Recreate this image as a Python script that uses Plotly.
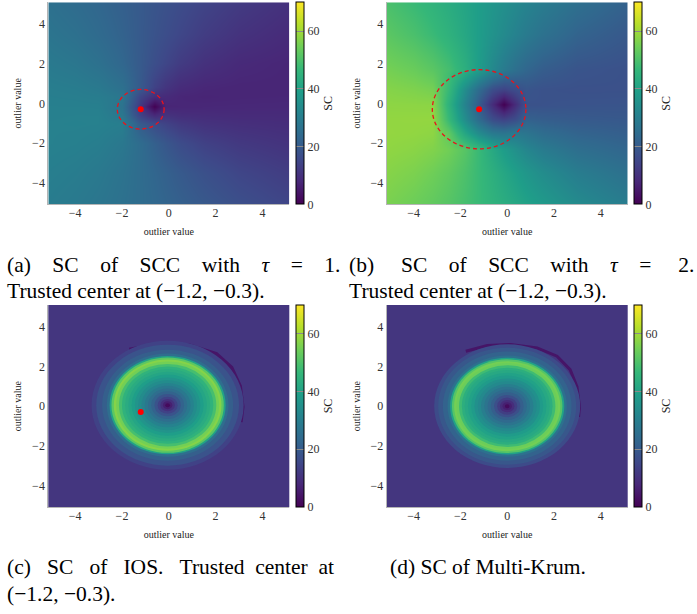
import plotly.graph_objects as go
from plotly.colors import sample_colorscale

W, H = 697, 614
SERIF = "Liberation Serif"
SC_MAX = 70

# ---------------- data ----------------
trusted_center = (-1.2, -0.3)
tau_a = 1.0
tau_b = 2.0

# (a) SC of SCC, tau = 1 (values on a coarse grid)
xa = [-5.1, -4, -3, -2, -1.2, -0.6, -0.15, 0.5, 1.5, 3, 5.1]
ya = [-5.1, -3.5, -2, -1, -0.6, -0.15, 0.35, 0.8, 2, 3.5, 5.1]
za = [
    [29.3, 28.5, 27.4, 26.0, 24.6, 23.5, 22.6, 21.4, 19.5, 17.2, 14.8],
    [30.0, 29.4, 28.4, 26.6, 24.6, 22.9, 21.6, 19.8, 17.4, 14.8, 12.7],
    [30.7, 30.4, 29.8, 28.0, 24.6, 21.4, 19.1, 16.4, 13.8, 11.8, 10.4],
    [30.7, 30.8, 30.7, 29.9, 19.8, 16.2, 14.1, 11.9, 10.3, 9.5, 9.0],
    [30.6, 30.7, 30.7, 27.9, 14.3, 8.6, 10.6, 9.5, 9.0, 8.6, 8.5],
    [30.4, 30.4, 30.3, 26.6, 11.4, 0.3, 7.3, 7.5, 7.7, 7.8, 7.9],
    [30.1, 29.9, 29.5, 27.7, 14.8, 9.5, 8.6, 7.5, 7.2, 7.4, 7.5],
    [29.8, 29.4, 28.5, 25.8, 19.8, 14.0, 11.0, 8.7, 7.6, 7.3, 7.3],
    [28.6, 27.7, 26.1, 23.2, 19.8, 16.9, 14.9, 12.4, 10.0, 8.2, 7.4],
    [27.1, 25.9, 24.2, 22.0, 19.8, 18.0, 16.7, 15.0, 12.6, 10.3, 8.5],
    [25.8, 24.5, 23.1, 21.3, 19.8, 18.5, 17.6, 16.3, 14.4, 12.2, 10.0],
]

# (b) SC of SCC, tau = 2
xb = [-5.1, -4, -3.2, -2.5, -1.8, -1.2, -0.6, -0.15, 0.3, 0.8, 1.5, 3, 5.1]
yb = [-5.1, -3.5, -2.3, -1.5, -0.8, -0.05, 0.7, 1.7, 3.5, 5.1]
zb = [
    [55.7, 54.2, 52.7, 51.1, 49.1, 47.2, 45.1, 43.5, 41.9, 40.2, 37.9, 33.7, 29.6],
    [57.1, 56.0, 54.5, 52.6, 50.0, 47.2, 44.1, 41.6, 39.3, 37.0, 34.1, 29.6, 26.0],
    [58.1, 57.5, 56.5, 54.7, 51.4, 47.2, 42.1, 38.5, 35.3, 32.4, 29.3, 25.5, 23.0],
    [58.5, 58.3, 57.9, 52.5, 41.7, 34.0, 28.8, 27.6, 28.8, 27.4, 25.0, 22.5, 21.1],
    [58.4, 58.5, 58.5, 46.9, 34.4, 24.5, 16.6, 14.3, 16.6, 21.9, 21.0, 20.0, 19.5],
    [57.9, 57.8, 57.7, 44.7, 31.4, 20.0, 8.6, 0.0, 8.6, 17.8, 17.9, 18.2, 18.3],
    [57.0, 56.3, 55.3, 46.9, 34.4, 24.5, 16.6, 14.3, 16.6, 18.6, 17.8, 17.5, 17.6],
    [55.2, 53.8, 51.8, 48.9, 44.2, 38.8, 32.9, 29.0, 25.8, 23.2, 20.7, 18.4, 17.6],
    [51.9, 49.7, 47.4, 44.9, 41.8, 38.8, 35.7, 33.4, 31.2, 29.0, 26.3, 22.3, 19.5],
    [49.6, 47.3, 45.3, 43.2, 40.9, 38.8, 36.6, 34.9, 33.3, 31.6, 29.4, 25.6, 21.9],
]

# (c) IOS and (d) Multi-Krum: uniform background + concentric rings (radius, SC)
bg_grid = [-5.15, 5.15]
bg_sc_c = 11
bg_sc_d = 11
ring_c_center = (-0.05, 0.05)
ring_c_r = [3.25, 3.05, 2.8, 2.6, 2.48, 2.4, 2.3, 2.2, 2.08, 1.95, 1.82, 1.68, 1.54, 1.4,
            1.26, 1.12, 0.98, 0.84, 0.7, 0.56, 0.43, 0.31, 0.2, 0.1]
ring_c_sc = [14, 18, 21, 25, 40, 52, 57, 55, 49, 45, 43, 41, 39, 36,
             34, 31, 28, 25, 22, 18, 14, 10, 6, 2]
ring_d_center = (0.0, 0.0)
ring_d_r = [3.12, 2.95, 2.75, 2.55, 2.44, 2.36, 2.27, 2.17, 2.06, 1.94, 1.82, 1.68, 1.54, 1.4,
            1.26, 1.12, 0.98, 0.84, 0.7, 0.56, 0.43, 0.31, 0.2, 0.1]
ring_d_sc = [16, 19, 22, 26, 40, 51, 55, 54, 48, 44, 42, 40, 38, 35,
             33, 30, 27, 24, 21, 17, 13, 9, 6, 2]
# thin low-SC arc on the upper-right of the rings
arc_c_x = [-1.68, -0.40, 0.88, 2.02, 2.66, 3.02, 3.13, 3.05]
arc_c_y = [2.82, 3.11, 3.03, 2.60, 1.92, 0.99, -0.03, -0.80]
arc_c_sc = 4
arc_d_x = [-1.77, -0.85, 0.14, 1.28, 2.13, 2.69, 2.98, 3.09, 3.05]
arc_d_y = [2.77, 3.06, 3.11, 2.94, 2.52, 1.84, 0.99, -0.03, -0.54]
arc_d_sc = 4

tick_vals = [-4, -2, 0, 2, 4]
cbar_ticks = [0, 20, 40, 60]

# ---------------- layout geometry (pixels) ----------------
panels = [
    # name, axis suffix, x px range, y px range, colorbar left px
    ("a", "", (48.3, 289.3), (2.3, 204.3), 296),
    ("b", "2", (386.7, 627.7), (2.3, 204.3), 634.3),
    ("c", "3", (48.3, 289.3), (305.0, 507.3), 296),
    ("d", "4", (386.7, 627.7), (305.0, 507.3), 634.3),
]


def fx(px):
    return px / W


def fy(py):
    return 1 - py / H


def vcol(v):
    return sample_colorscale("Viridis", [max(0.0, min(1.0, v / SC_MAX))])[0]


fig = go.Figure()

# heatmaps
fig.add_trace(go.Heatmap(x=xa, y=ya, z=za, zsmooth="best", coloraxis="coloraxis",
                         xaxis="x", yaxis="y", hoverinfo="skip"))
fig.add_trace(go.Heatmap(x=xb, y=yb, z=zb, zsmooth="best", coloraxis="coloraxis2",
                         xaxis="x2", yaxis="y2", hoverinfo="skip"))
fig.add_trace(go.Heatmap(x=bg_grid, y=bg_grid, z=[[bg_sc_c] * 2] * 2, coloraxis="coloraxis3",
                         xaxis="x3", yaxis="y3", hoverinfo="skip"))
fig.add_trace(go.Heatmap(x=bg_grid, y=bg_grid, z=[[bg_sc_d] * 2] * 2, coloraxis="coloraxis4",
                         xaxis="x4", yaxis="y4", hoverinfo="skip"))

layout = dict(
    width=W, height=H, margin=dict(l=0, r=0, t=0, b=0),
    paper_bgcolor="white", plot_bgcolor="white", showlegend=False,
    font=dict(family=SERIF, color="#222"),
)

shapes = []
for name, sfx, xpx, ypx, cbx in panels:
    ax = dict(
        domain=[fx(xpx[0]), fx(xpx[1])], range=[-5.15, 5.15],
        tickvals=tick_vals, ticks="", ticklen=0, showgrid=False, zeroline=False,
        showline=True, linecolor="#b5b5b5", linewidth=1, ticklabelstandoff=-3,
        tickfont=dict(family=SERIF, size=12, color="#333"),
        title=dict(text="outlier value", font=dict(family=SERIF, size=10, color="#222"), standoff=9),
        anchor="y" + sfx, automargin=False, fixedrange=True,
    )
    ay = dict(
        domain=[fy(ypx[1]), fy(ypx[0])], range=[-5.1, 5.1],
        tickvals=tick_vals, ticks="", ticklen=0, showgrid=False, zeroline=False,
        showline=True, linecolor="#b5b5b5", linewidth=1,
        tickfont=dict(family=SERIF, size=12, color="#333"),
        title=dict(text="outlier value", font=dict(family=SERIF, size=10, color="#222"), standoff=8),
        anchor="x" + sfx, automargin=False, fixedrange=True,
    )
    layout["xaxis" + sfx] = ax
    layout["yaxis" + sfx] = ay
    layout["coloraxis" + sfx] = dict(
        colorscale="Viridis", cmin=0, cmax=SC_MAX,
        colorbar=dict(
            x=fx(cbx), xanchor="left", y=fy(ypx[0]), yanchor="top",
            len=ypx[1] - ypx[0], lenmode="pixels", thickness=8, thicknessmode="pixels",
            xpad=0, ypad=0, outlinewidth=1, outlinecolor="black",
            tickvals=cbar_ticks, ticks="inside", ticklen=8, tickcolor="#8a8a8a",
            tickfont=dict(family=SERIF, size=12, color="#333"),
            title=dict(text="SC", side="right", font=dict(family=SERIF, size=12, color="#222")),
        ),
    )

# rings for (c) and (d)
for sfx, cen, rr, vv, ax_, ay_, asc, aw in [
    ("3", ring_c_center, ring_c_r, ring_c_sc, arc_c_x, arc_c_y, arc_c_sc, 5),
    ("4", ring_d_center, ring_d_r, ring_d_sc, arc_d_x, arc_d_y, arc_d_sc, 3),
]:
    path = "M " + " L ".join(f"{px},{py}" for px, py in zip(ax_, ay_))
    shapes.append(dict(type="path", xref="x" + sfx, yref="y" + sfx, path=path,
                       line=dict(color=vcol(asc), width=aw), layer="above"))
    for r, v in zip(rr, vv):
        shapes.append(dict(type="circle", xref="x" + sfx, yref="y" + sfx,
                           x0=cen[0] - r, x1=cen[0] + r, y0=cen[1] - r, y1=cen[1] + r,
                           fillcolor=vcol(v), line=dict(width=0), layer="above"))

# trusted-center markers and clipping radius
for sfx, tau in [("", tau_a), ("2", tau_b)]:
    shapes.append(dict(type="circle", xref="x" + sfx, yref="y" + sfx,
                       x0=trusted_center[0] - tau, x1=trusted_center[0] + tau,
                       y0=trusted_center[1] - tau, y1=trusted_center[1] + tau,
                       line=dict(color="#e8141c", width=1.3, dash="4px,3px"),
                       fillcolor="rgba(0,0,0,0)", layer="above"))
for sfx in ["", "2", "3"]:
    shapes.append(dict(type="circle", xref="x" + sfx, yref="y" + sfx,
                       xsizemode="pixel", ysizemode="pixel",
                       xanchor=trusted_center[0], yanchor=trusted_center[1],
                       x0=-3, x1=3, y0=-3, y1=3,
                       fillcolor="#ff0000", line=dict(width=0), layer="above"))
layout["shapes"] = shapes

# captions
NB = "\u00a0"


def just(words, gaps):
    out = words[0]
    for w, g in zip(words[1:], gaps):
        out += NB * g + w
    return out


cap_font = dict(family=SERIF, size=21.5, color="black")
captions = [
    (5, 265, just(["(a)", "SC", "of", "SCC", "with", "<i>τ</i>", "=", "1."], [4, 4, 4, 4, 4, 4, 4])),
    (347, 265, just(["(b)", "SC", "of", "SCC", "with", "<i>τ</i>", "=", "2."], [5, 4, 4, 4, 4, 4, 5])),
    (5, 291, "Trusted center at (−1.2, −0.3)."),
    (347, 291, "Trusted center at (−1.2, −0.3)."),
    (5, 567, just(["(c)", "SC", "of", "IOS.", "Trusted", "center", "at"], [3, 3, 3, 3, 2, 2])),
    (388, 567, "(d) SC of Multi-Krum."),
    (5, 594, "(−1.2, −0.3)."),
]
layout["annotations"] = [
    dict(x=fx(x), y=fy(y), xref="paper", yref="paper", text=t, showarrow=False,
         xanchor="left", yanchor="middle", font=cap_font)
    for x, y, t in captions
]

fig.update_layout(**layout)
fig.write_html("out.html")
